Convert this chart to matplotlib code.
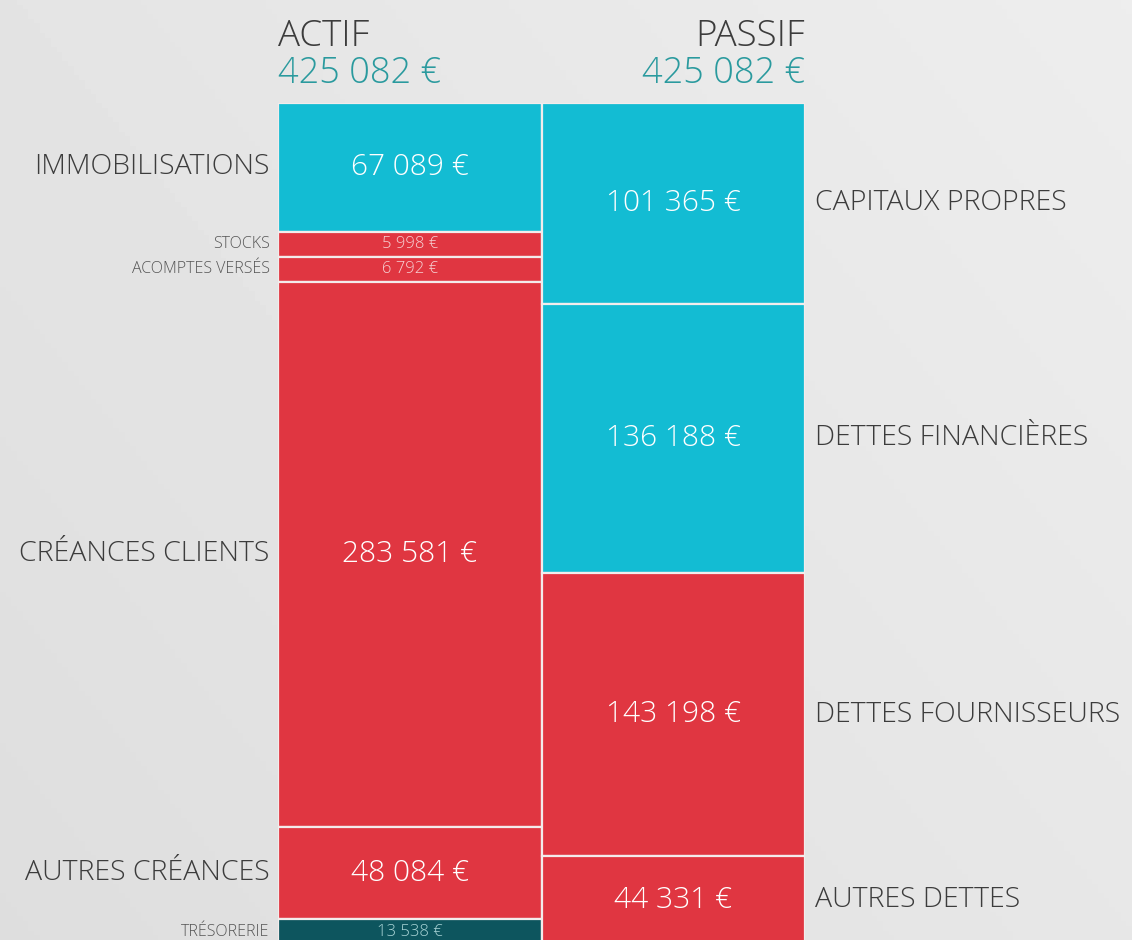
import numpy as np
import matplotlib
matplotlib.use("Agg")
from matplotlib import pyplot as plt

# Bilan data (euros)
actif_labels = ["IMMOBILISATIONS", "STOCKS", "ACOMPTES VERSÉS", "CRÉANCES CLIENTS",
                "AUTRES CRÉANCES", "TRÉSORERIE"]
actif_values = [67089, 5998, 6792, 283581, 48084, 13538]
actif_kind = ["fixed", "current", "current", "current", "current", "cash"]

passif_labels = ["CAPITAUX PROPRES", "DETTES FINANCIÈRES", "DETTES FOURNISSEURS", "AUTRES DETTES"]
passif_values = [101365, 136188, 143198, 44331]
passif_kind = ["fixed", "fixed", "current", "current"]

total_actif = 425082
total_passif = 425082

colors = {"fixed": "#13bcd3", "current": "#e03641", "cash": "#0d555e"}
FONT = "Open Sans"
TEXT = "#3c3c3c"
TEAL = "#2a9a9e"

W, H = 1132, 940
fig = plt.figure(figsize=(W / 100, H / 100), dpi=100)

# background (light grey, lighter top right)
bg = fig.add_axes([0, 0, 1, 1])
gx, gy = np.meshgrid(np.linspace(0, 1, 200), np.linspace(0, 1, 200))
bg.imshow(0.87 + 0.06 * (0.6 * gx + 0.4 * (1 - gy)), cmap="gray", vmin=0, vmax=1,
          extent=[0, 1, 0, 1], aspect="auto")
bg.set_axis_off()

# chart axes: columns between px 278 and 805, from px 103 down past the bottom edge
left, right, top, bottom = 278, 805, 103, 944
ax = fig.add_axes([left / W, 1 - bottom / H, (right - left) / W, (bottom - top) / H])
ax.set_xlim(0, 2)
ax.set_ylim(total_passif, 0)
ax.set_axis_off()


def display_heights(values, total, min_share=0.0297, small_share=0.04):
    # small items get a minimum height so they stay readable
    vals = np.array(values, dtype=float)
    small = vals < small_share * total
    mn = min_share * total
    rest = total - mn * small.sum()
    h = np.where(small, mn, vals / vals[~small].sum() * rest)
    return h, small


def fmt(v):
    return f"{v:,}".replace(",", " ") + " €"


def draw_column(x0, labels, values, kinds, total, side):
    h, small = display_heights(values, total)
    starts = np.concatenate([[0], np.cumsum(h)[:-1]])
    ax.bar(x0 + 0.5, h, width=1.0, bottom=starts,
           color=[colors[k] for k in kinds], edgecolor="#f3ecec", linewidth=1.6)
    for lab, v, s, hh, sm, k in zip(labels, values, starts, h, small, kinds):
        yc = s + hh / 2
        vc = "#a9d4d6" if k == "cash" else ("#f6d2d4" if sm else "white")
        ax.text(x0 + 0.5, yc, fmt(v), ha="center", va="center", color=vc,
                fontsize=12 if sm else 21.5, family=FONT, fontweight="light")
        if side == "left":
            ax.annotate(lab, (x0, yc), xytext=(-6, 0), textcoords="offset points",
                        ha="right", va="center", color="#555555" if sm else TEXT,
                        fontsize=11.5 if sm else 20.5, family=FONT, fontweight="light",
                        annotation_clip=False)
        else:
            ax.annotate(lab, (x0 + 1, yc), xytext=(7, 0), textcoords="offset points",
                        ha="left", va="center", color=TEXT,
                        fontsize=20.5, family=FONT, fontweight="light",
                        annotation_clip=False)


draw_column(0, actif_labels, actif_values, actif_kind, total_actif, "left")
draw_column(1, passif_labels, passif_values, passif_kind, total_passif, "right")

# headers
for x, title, total, ha in [(0, "ACTIF", total_actif, "left"), (2, "PASSIF", total_passif, "right")]:
    ax.annotate(title, (x, 0), xytext=(0, 48), textcoords="offset points", ha=ha,
                va="center", fontsize=26.5, color=TEXT, family=FONT, fontweight="light",
                annotation_clip=False)
    ax.annotate(fmt(total), (x, 0), xytext=(0, 21), textcoords="offset points", ha=ha,
                va="center", fontsize=26, color=TEAL, family=FONT, fontweight="light",
                annotation_clip=False)

fig.savefig("out.png", dpi=100)
